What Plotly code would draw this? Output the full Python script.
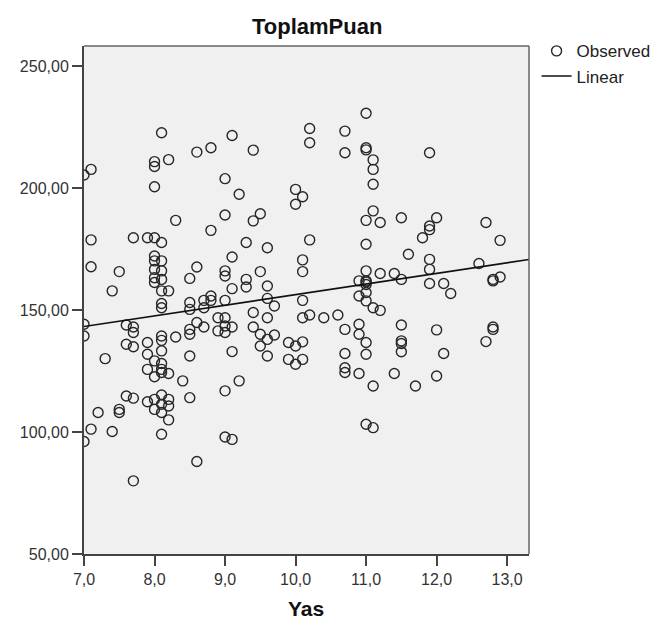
import numpy as np
import plotly.graph_objects as go

title_text = "ToplamPuan"
x_title = "Yas"

yas = [
    8.1, 8.2, 8.0, 8.0, 8.0, 8.6, 8.8, 7.1, 7.0, 9.0, 9.0, 8.3, 8.8,
    7.1, 7.7, 7.9, 8.0, 8.1, 7.1, 7.5, 7.4,
    8.0, 8.0, 8.0, 8.0, 8.0,
    8.1, 8.1, 8.1, 8.1, 8.1, 8.1,
    8.2, 8.5, 8.6, 8.5, 8.5, 8.7, 8.7,
    7.0, 7.0, 7.6, 7.7, 7.7, 7.6, 7.7, 7.3, 7.9, 8.1, 8.1, 8.1, 7.9, 8.3, 8.5, 8.5, 8.6, 8.7, 8.5,
    8.0, 8.1, 8.1, 8.1, 7.9, 8.0, 8.2, 8.4, 7.6, 7.7, 7.2, 7.5, 7.5, 7.9, 8.0, 8.0, 8.1, 8.1, 8.2, 8.2,
    8.1, 8.2, 8.5, 7.1, 7.0, 7.4, 8.1, 8.6, 7.7,
    9.1, 9.4, 10.2, 10.2, 10.7, 10.7, 9.2, 9.4, 9.5, 10.0, 10.1, 10.0,
    11.0, 11.0, 11.0, 11.1, 11.1, 11.1, 11.9, 11.1, 11.0, 11.2, 11.5, 12.0, 11.9, 12.7,
    9.3, 9.6, 10.2, 9.1, 10.1, 10.1, 9.0, 9.0, 9.5, 9.3, 9.3, 9.1, 9.6, 8.8, 8.8, 9.0, 9.6, 9.7, 10.1,
    9.4, 9.6, 8.9, 9.0, 9.0, 9.1, 8.9, 9.0, 10.1, 10.2, 10.4, 10.6, 9.4, 9.5, 9.6, 9.7, 9.5, 9.6, 9.1,
    9.9, 10.0, 10.1, 10.7, 10.7,
    9.9, 10.0, 10.1, 10.7, 10.7, 9.2, 9.0, 9.0, 9.1,
    11.0, 11.8, 11.9, 12.9, 11.6, 11.9, 11.9, 12.6, 11.0, 11.2, 11.4, 11.5, 10.9, 11.0, 11.0, 11.0,
    11.9, 12.1, 12.2, 12.8, 12.8, 12.9, 10.9, 11.0, 11.0, 11.1, 11.2, 10.9, 10.9, 11.0, 11.0,
    11.5, 11.5, 11.5, 11.5, 12.0, 12.1, 12.8, 12.8, 12.7,
    10.9, 11.1, 11.4, 11.7, 12.0, 11.0, 11.1,
]

toplam_puan = [
    222.7, 211.7, 210.9, 208.9, 200.6, 214.8, 216.6, 207.7, 205.4, 203.9, 189.0, 186.8, 182.7,
    178.8, 179.7, 179.7, 179.7, 177.7, 167.8, 165.8, 157.9,
    172.2, 170.2, 166.7, 163.3, 161.3,
    170.2, 166.1, 162.6, 157.9, 152.7, 151.0,
    157.9, 163.0, 167.7, 153.1, 150.3, 154.0, 151.0,
    144.2, 139.4, 143.9, 143.1, 140.8, 136.0, 135.0, 130.1, 136.7, 139.4, 137.6, 133.3, 131.9, 139.0, 142.1, 140.1, 144.9, 143.1, 131.2,
    129.2, 128.1, 125.7, 124.4, 125.7, 122.7, 124.0, 121.0, 114.8, 113.9, 108.0, 109.3, 108.0, 112.4, 113.4, 109.3, 115.2, 111.4, 113.4, 110.7,
    108.0, 105.0, 114.1, 101.2, 96.1, 100.2, 99.1, 87.9, 80.0,
    221.6, 215.6, 224.5, 218.6, 223.4, 214.5, 197.5, 186.6, 189.5, 199.5, 196.5, 193.4,
    230.7, 216.6, 215.7, 211.6, 207.7, 201.6, 214.5, 190.7, 186.8, 185.9, 187.9, 187.9, 184.5, 185.9,
    177.7, 175.6, 178.8, 171.8, 170.6, 165.8, 166.1, 164.0, 165.8, 162.6, 159.5, 158.8, 159.9, 155.8, 154.0, 154.0, 154.8, 151.7, 154.0,
    149.0, 146.9, 146.9, 146.9, 143.5, 143.1, 141.5, 140.8, 146.9, 148.0, 146.9, 148.0, 143.1, 140.1, 138.0, 139.8, 135.3, 131.2, 133.0,
    136.7, 135.3, 137.0, 142.1, 132.2,
    129.8, 127.8, 129.8, 126.4, 124.4, 121.0, 116.9, 98.0, 97.0,
    177.0, 179.7, 183.0, 178.6, 172.9, 170.8, 166.7, 169.1, 166.1, 165.0, 165.0, 162.6, 162.0, 162.0, 160.5, 161.5,
    160.9, 160.9, 156.8, 162.6, 162.0, 163.6, 155.8, 157.2, 153.8, 151.0, 149.9, 144.2, 140.1, 136.7, 131.9,
    143.9, 137.4, 136.3, 132.9, 141.9, 132.2, 143.1, 142.1, 137.1,
    124.0, 118.9, 124.0, 118.9, 123.0, 103.2, 101.8,
]

x_range = [7.0, 13.31]
y_range = [50.0, 258.3]
x_ticks = [7.0, 8.0, 9.0, 10.0, 11.0, 12.0, 13.0]
y_ticks = [50.0, 100.0, 150.0, 200.0, 250.0]

slope, intercept = np.polyfit(yas, toplam_puan, 1)
line_x = np.array(x_range)
line_y = intercept + slope * line_x

FONT = "Liberation Sans, Arial, sans-serif"
W, H = 660, 622
L, R, T, B = 74, 127, 38, 76

fig = go.Figure()
fig.add_trace(go.Scatter(
    x=yas, y=toplam_puan, mode="markers", name="Observed",
    marker=dict(symbol="circle-open", size=10, color="#262626",
                line=dict(width=1.4, color="#262626")),
))
fig.add_trace(go.Scatter(
    x=line_x, y=line_y, mode="lines", name="Linear",
    line=dict(color="#111111", width=1.6),
))

axis_font = dict(family=FONT, size=16, color="#333333")
fig.update_layout(
    width=W, height=H,
    margin=dict(l=L, r=R, t=T, b=B),
    paper_bgcolor="white",
    plot_bgcolor="#F0F0F0",
    separators=",.",
    legend=dict(x=1.017, xanchor="left", y=1.025, yanchor="top", bgcolor="rgba(0,0,0,0)",
                font=dict(family=FONT, size=17, color="#222222"),
                itemwidth=30, tracegroupgap=0),
    xaxis=dict(range=x_range, tickvals=x_ticks, tickformat=".1f", showgrid=False, zeroline=False,
               showline=True, linecolor="#444444", linewidth=2, mirror=False,
               ticks="outside", ticklen=10, tickwidth=2, tickcolor="#444444",
               tickfont=axis_font),
    yaxis=dict(range=y_range, tickvals=y_ticks, tickformat=".2f", showgrid=False, zeroline=False,
               showline=True, linecolor="#444444", linewidth=2, mirror=False,
               ticks="outside", ticklen=10, tickwidth=2, tickcolor="#444444",
               tickfont=axis_font),
    shapes=[
        dict(type="line", xref="paper", yref="paper", x0=0, x1=1, y0=1, y1=1,
             line=dict(color="#666666", width=1.5)),
        dict(type="line", xref="paper", yref="paper", x0=1, x1=1, y0=0, y1=1,
             line=dict(color="#666666", width=1.5)),
    ],
    annotations=[
        dict(text="<b>" + title_text + "</b>", xref="paper", yref="paper",
             x=(314 - L) / (W - L - R), y=1 + (T - 18) / (H - T - B),
             xanchor="center", yanchor="middle", showarrow=False,
             font=dict(family=FONT, size=22, color="#111111")),
        dict(text="<b>" + x_title + "</b>", xref="paper", yref="paper",
             x=(303 - L) / (W - L - R), y=-(600 - (H - B)) / (H - T - B),
             xanchor="center", yanchor="middle", showarrow=False,
             font=dict(family=FONT, size=21, color="#111111")),
    ],
)

fig.write_html("out.html")
